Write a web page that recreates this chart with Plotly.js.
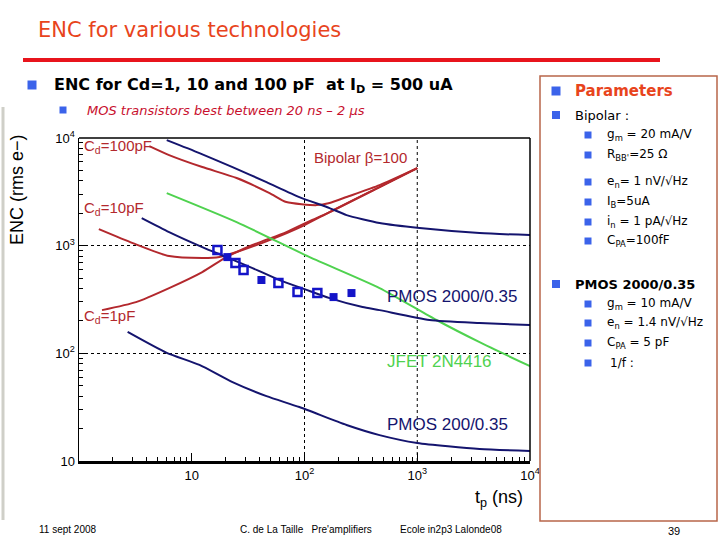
<html>
<head>
    <style>
        body { margin: 0; padding: 0; background: white; }
        #chart { width: 720px; height: 540px; }
    </style>
    <script src="https://cdn.plot.ly/plotly-3.0.1.min.js"></script>
</head>
<body>
    <div id="chart"></div>
    <script>
        // shaping time tp (ns) and ENC (rms e-)
        // Bipolar beta=100, Cd = 100, 10, 1 pF
        const tpBip100 = [4.2, 6.3, 12.4, 25, 49, 69, 128, 167, 236, 463, 1000];
        const encBip100 = [8410, 6940, 5370, 4250, 3080, 2540, 2380, 2490, 2830, 3650, 5250];
        const tpBip10 = [1.5, 3.0, 6.3, 12.4, 17.6, 25, 49, 96, 167, 463, 1000];
        const encBip10 = [1425, 1057, 800, 767, 783, 873, 1127, 1520, 2050, 3500, 5250];
        const tpBip1 = [1.6, 3.2, 6.3, 12.4, 20.3, 34.6, 69, 111, 167, 463, 1000];
        const encBip1 = [252, 299, 404, 569, 783, 1014, 1337, 1690, 2050, 3500, 5250];

        // PMOS curves
        const tpPmos100 = [6.0, 11.7, 23, 46, 90, 167, 236, 463, 1050, 3570, 10000];
        const encPmos100 = [9550, 7240, 5370, 3890, 2825, 2235, 1923, 1621, 1456, 1309, 1254];
        const tpPmos2000 = [3.6, 6.3, 12.4, 20.3, 34.6, 60, 100, 167, 327, 463, 1285, 3570, 10000];
        const encPmos2000 = [1803, 1337, 970, 783, 619, 479, 395, 326, 269, 252, 204, 191, 183];
        const tpPmos200 = [2.7, 6.0, 11.7, 23, 46, 90, 236, 463, 1000, 3570, 10000];
        const encPmos200 = [158, 101, 78, 54, 40, 31.7, 21.6, 17.4, 14.7, 12.9, 12.4];

        // JFET 2N4416
        const tpJfet = [6.0, 25, 111, 463, 1480, 3570, 10000];
        const encJfet = [3080, 1656, 783, 404, 204, 127, 76];

        // measured PMOS 2000/0.35 points
        const tpMeasOpen = [16.9, 24.4, 28.8, 58.7, 86.7, 130];
        const encMeasOpen = [910, 689, 593, 450, 371, 363];
        const tpMeasFull = [20.7, 41.5, 181, 261];
        const encMeasFull = [783, 480, 333, 363];

        const xTicks = [1, 10, 100, 1000, 10000];
        const xTickText = ['', '10', '10<sup>2</sup>', '10<sup>3</sup>', '10<sup>4</sup>'];
        const xGrid = [100, 1000];
        const yTicks = [10, 100, 1000, 10000];
        const yTickText = ['10', '10<sup>2</sup>', '10<sup>3</sup>', '10<sup>4</sup>'];

        const RED = '#b3282d';
        const NAVY = '#14146e';
        const GREEN = '#4fd24f';
        const BULLET = '#3b63ea';

        // pixel -> paper helpers (margins are 0, so paper == page)
        const px = x => x / 720;
        const py = y => 1 - y / 540;

        function minorVals(lo, hi) {
            const v = [];
            for (let d = lo; d < hi; d *= 10)
                for (let k = 2; k <= 9; k++) v.push(k * d);
            return v;
        }

        function curve(x, y, color) {
            return {
                x: x, y: y, type: 'scatter', mode: 'lines',
                line: {color: color, width: 2, shape: 'spline', smoothing: 0.6},
                hoverinfo: 'skip'
            };
        }

        const data = [
            curve(tpBip100, encBip100, RED),
            curve(tpBip10, encBip10, RED),
            curve(tpBip1, encBip1, RED),
            curve(tpJfet, encJfet, GREEN),
            curve(tpPmos100, encPmos100, NAVY),
            curve(tpPmos2000, encPmos2000, NAVY),
            curve(tpPmos200, encPmos200, NAVY),
            {
                x: tpMeasOpen, y: encMeasOpen, type: 'scatter', mode: 'markers',
                marker: {symbol: 'square-open', size: 8, color: '#1414c8', line: {width: 2.5}}
            },
            {
                x: tpMeasFull, y: encMeasFull, type: 'scatter', mode: 'markers',
                marker: {symbol: 'square', size: 8, color: '#1414c8'}
            }
        ];

        const tickFont = {family: 'Liberation Sans, Arial, sans-serif', size: 13, color: 'black'};
        const slideFont = 'DejaVu Sans, sans-serif';

        function note(x, y, text, size, color, extra) {
            return Object.assign({
                xref: 'paper', yref: 'paper', x: px(x), y: py(y),
                xanchor: 'left', yanchor: 'middle', showarrow: false,
                text: text, font: {family: slideFont, size: size, color: color}
            }, extra || {});
        }

        function bullet(x, y, s, color) {
            return {
                type: 'rect', xref: 'paper', yref: 'paper',
                x0: px(x - s / 2), x1: px(x + s / 2), y0: py(y + s / 2), y1: py(y - s / 2),
                fillcolor: color, line: {width: 0}
            };
        }

        const plotFamily = 'Liberation Sans, Arial, sans-serif';
        const plotLabel = (x, y, text, size, color) =>
            note(x, y, text, size, color, {font: {family: plotFamily, size: size, color: color}});

        const annotations = [
            note(36, 30, 'ENC for various technologies', 21, '#e8441c'),
            note(52, 85, '<b>ENC for Cd=1, 10 and 100 pF  at I<sub>D</sub> = 500 uA</b>', 16, 'black'),
            note(85, 110, '<i>MOS transistors best between 20 ns – 2 µs</i>', 13, '#c8102e'),

            note(573, 91, '<b>Parameters</b>', 15, '#e8441c'),
            note(573, 115, 'Bipolar :', 13, 'black'),
            note(605, 135, 'g<sub>m</sub> = 20 mA/V', 12, 'black'),
            note(605, 155, 'R<sub>BB\'</sub>=25 Ω', 12, 'black'),
            note(605, 182, 'e<sub>n</sub>= 1 nV/√Hz', 12, 'black'),
            note(605, 202, 'I<sub>B</sub>=5uA', 12, 'black'),
            note(605, 222, 'i<sub>n</sub> = 1 pA/√Hz', 12, 'black'),
            note(605, 241, 'C<sub>PA</sub>=100fF', 12, 'black'),
            note(573, 284, '<b>PMOS 2000/0.35</b>', 13, 'black'),
            note(605, 304, 'g<sub>m</sub> = 10 mA/V', 12, 'black'),
            note(605, 323, 'e<sub>n</sub> = 1.4 nV/√Hz', 12, 'black'),
            note(605, 343, 'C<sub>PA</sub> = 5 pF', 12, 'black'),
            note(608, 363, '1/f :', 12, 'black'),

            note(37, 529, '11 sept 2008', 9, 'black', {font: {family: plotFamily, size: 10, color: 'black'}}),
            note(238, 529, 'C. de La Taille   Pre\'amplifiers', 10, 'black', {font: {family: plotFamily, size: 10, color: 'black'}}),
            note(398, 529, 'Ecole in2p3 Lalonde08', 10, 'black', {font: {family: plotFamily, size: 10, color: 'black'}}),
            note(666, 531, '39', 11, 'black', {font: {family: plotFamily, size: 11, color: 'black'}}),

            // plot labels
            plotLabel(82, 146, 'C<sub>d</sub>=100pF', 15, RED),
            plotLabel(82, 208, 'C<sub>d</sub>=10pF', 15, RED),
            plotLabel(82, 316, 'C<sub>d</sub>=1pF', 15, RED),
            plotLabel(312, 157, 'Bipolar β=100', 15, RED),
            plotLabel(385, 296, 'PMOS 2000/0.35', 17, NAVY),
            plotLabel(385, 361, 'JFET 2N4416', 17, GREEN),
            plotLabel(385, 424, 'PMOS 200/0.35', 17, NAVY),

            // axis titles
            note(17, 190, 'ENC (rms e−)', 18, 'black', {
                xanchor: 'center', textangle: -90,
                font: {family: plotFamily, size: 18, color: 'black'}
            }),
            plotLabel(473, 498, 't<sub>p</sub> (ns)', 18, 'black')
        ];

        const shapes = [
            // slide decoration
            {type: 'line', xref: 'paper', yref: 'paper', x0: px(23), x1: px(660), y0: py(60), y1: py(60),
             line: {color: '#e8141c', width: 4}},
            {type: 'line', xref: 'paper', yref: 'paper', x0: px(3), x1: px(3), y0: py(107), y1: py(520),
             line: {color: '#cfcfc8', width: 3}},
            {type: 'rect', xref: 'paper', yref: 'paper', x0: px(540), x1: px(717), y0: py(521), y1: py(76),
             line: {color: '#b8654a', width: 1.5}},
            bullet(32, 85, 9, BULLET),
            bullet(63, 110, 7, BULLET),
            bullet(556, 91, 9, BULLET),
            bullet(556, 115, 8, BULLET),
            bullet(556, 284, 8, BULLET),
            bullet(588, 135, 7, BULLET), bullet(588, 155, 7, BULLET), bullet(588, 182, 7, BULLET),
            bullet(588, 202, 7, BULLET), bullet(588, 222, 7, BULLET), bullet(588, 241, 7, BULLET),
            bullet(588, 304, 7, BULLET), bullet(588, 323, 7, BULLET), bullet(588, 343, 7, BULLET),
            bullet(588, 363, 7, BULLET),
            // top and right frame
            {type: 'line', xref: 'x domain', yref: 'y domain', x0: 0, x1: 1, y0: 1, y1: 1,
             line: {color: 'black', width: 1.5}},
            {type: 'line', xref: 'x domain', yref: 'y domain', x0: 1, x1: 1, y0: 0, y1: 1,
             line: {color: 'black', width: 1.5}}
        ];
        // x grid only at 10^2 and 10^3
        xGrid.forEach(v => shapes.push({
            type: 'line', xref: 'x', yref: 'y domain', x0: v, x1: v, y0: 0, y1: 1,
            line: {color: 'black', width: 1, dash: '3px,3px'}, layer: 'below'
        }));

        const layout = {
            width: 720,
            height: 540,
            margin: {l: 0, r: 0, t: 0, b: 0},
            paper_bgcolor: 'white',
            plot_bgcolor: 'white',
            showlegend: false,
            xaxis: {
                type: 'log', range: [0, 4], domain: [px(79), px(530)],
                tickmode: 'array', tickvals: xTicks, ticktext: xTickText,
                ticks: 'inside', ticklen: 8, tickcolor: 'black', tickwidth: 1,
                minor: {tickmode: 'array', tickvals: minorVals(1, 10000), ticks: 'inside', ticklen: 4, tickcolor: 'black'},
                showgrid: false, zeroline: false,
                showline: true, linecolor: 'black', linewidth: 3,
                tickfont: tickFont
            },
            yaxis: {
                type: 'log', range: [1, 4], domain: [1 - 461 / 540, 1 - 138 / 540],
                tickmode: 'array', tickvals: yTicks, ticktext: yTickText,
                ticks: 'inside', ticklen: 8, tickcolor: 'black', tickwidth: 1,
                minor: {tickmode: 'array', tickvals: minorVals(10, 10000), ticks: 'inside', ticklen: 4, tickcolor: 'black'},
                showgrid: true, gridcolor: 'black', gridwidth: 1, griddash: '3px,3px',
                zeroline: false,
                showline: true, linecolor: 'black', linewidth: 1.5,
                tickfont: tickFont
            },
            annotations: annotations,
            shapes: shapes
        };

        Plotly.newPlot('chart', data, layout, {displayModeBar: false, staticPlot: true});
    </script>
</body>
</html>
